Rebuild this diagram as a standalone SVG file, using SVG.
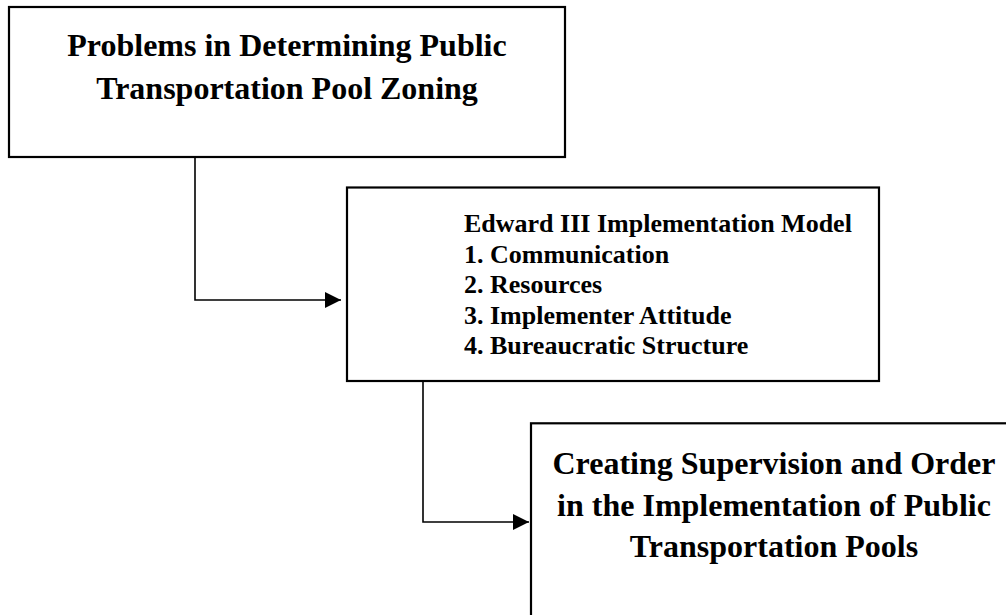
<svg xmlns="http://www.w3.org/2000/svg" width="1006" height="615" viewBox="0 0 1006 615">
<style>
.box{fill:#fff;stroke:#000;stroke-width:2.2}
.conn{fill:none;stroke:#000;stroke-width:1.6}
.t{font-family:"Liberation Serif","Times New Roman",serif;font-weight:bold;fill:#000}
.big{font-size:32px;text-anchor:middle}
.mid{font-size:26px}
</style>
<defs>
<marker id="arr" viewBox="0 0 16 16" refX="16" refY="8" markerWidth="16" markerHeight="16" markerUnits="userSpaceOnUse" orient="auto">
<path d="M0,0 L16,8 L0,16 Z" fill="#000"/>
</marker>
</defs>
<rect width="1006" height="615" fill="#fff"/>
<g id="connectors">
<path class="conn" d="M195,157 V300 H341" marker-end="url(#arr)"/>
<path class="conn" d="M423,381 V522 H529" marker-end="url(#arr)"/>
</g>
<g id="node-problems">
<rect class="box" x="9" y="7" width="556" height="150"/>
<text class="t big" x="287" y="56">Problems in Determining Public</text>
<text class="t big" x="287" y="99">Transportation Pool Zoning</text>
</g>
<g id="node-edward">
<rect class="box" x="347" y="187.5" width="532" height="193.5"/>
<text class="t mid" x="464" y="232">Edward III Implementation Model</text>
<text class="t mid" x="464" y="262.5">1. Communication</text>
<text class="t mid" x="464" y="293">2. Resources</text>
<text class="t mid" x="464" y="323.5">3. Implementer Attitude</text>
<text class="t mid" x="464" y="354">4. Bureaucratic Structure</text>
</g>
<g id="node-creating">
<rect class="box" x="531" y="423.3" width="600" height="300"/>
<text class="t big" x="774" y="474">Creating Supervision and Order</text>
<text class="t big" x="774" y="516">in the Implementation of Public</text>
<text class="t big" x="774" y="557">Transportation Pools</text>
</g>
</svg>
